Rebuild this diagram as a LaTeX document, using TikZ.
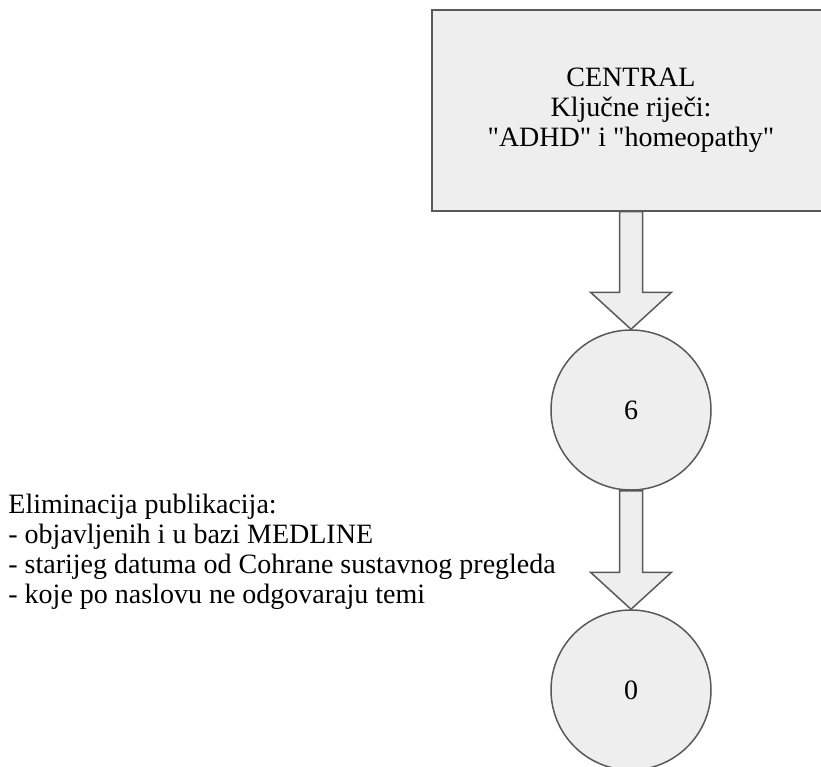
\documentclass[tikz,border=0pt]{standalone}
\usepackage{fontspec}
\setmainfont{Liberation Serif}
\usetikzlibrary{calc}

\definecolor{shapefill}{HTML}{EEEEEE}
\definecolor{shapeline}{HTML}{595959}

\tikzset{
  search/.style={draw=shapeline, line width=1pt, fill=shapefill,
    minimum width=199pt, minimum height=100.5pt, inner sep=0pt, align=center},
  hits/.style={circle, draw=shapeline, line width=0.75pt, fill=shapefill,
    minimum size=80pt, inner sep=0pt},
  note/.style={align=left, inner sep=0pt},
  flow/.style={draw=shapeline, line width=0.75pt, fill=shapefill, line join=miter}
}

% block arrow from the bottom of #1 to the top of #2
\newcommand{\flowarrow}[2]{%
  \draw[flow] ($(#1)+(-11.5,0)$) -- ($(#2)+(-11.5,-37)$) -- ($(#2)+(-40.5,-37)$)
    -- (#2) -- ($(#2)+(40.5,-37)$) -- ($(#2)+(11.5,-37)$) -- ($(#1)+(11.5,0)$) -- cycle;}

\begin{document}
\begin{tikzpicture}[x=0.5pt, y=-0.5pt, font=\fontsize{14pt}{15pt}\selectfont]
\useasboundingbox (0,0) rectangle (821,767);
\clip (0,0) rectangle (821,767);

\node[search] (central) at (631,110) {CENTRAL\\Ključne riječi:\\\textquotedbl ADHD\textquotedbl{} i \textquotedbl homeopathy\textquotedbl};
\node[hits] (six) at (631,410) {6};
\node[hits] (zero) at (631,690) {0};

\node[note, anchor=north west] (elim) at (8,494) {Eliminacija publikacija:\\
- objavljenih i u bazi MEDLINE\\
- starijeg datuma od Cohrane sustavnog pregleda\\
- koje po naslovu ne odgovaraju temi};

\flowarrow{central.south}{six.north}
\flowarrow{six.south}{zero.north}
\end{tikzpicture}
\end{document}
